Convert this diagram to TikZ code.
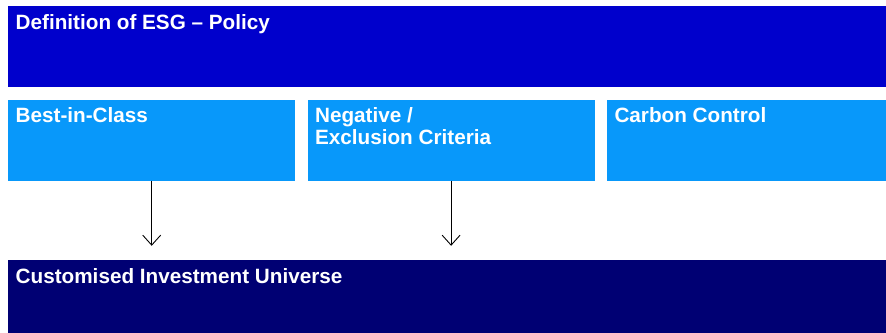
\documentclass[tikz,border=0pt]{standalone}
\usepackage{fontspec}
\setsansfont{Liberation Sans}
\usetikzlibrary{arrows.meta,positioning}
\definecolor{esgblue}{RGB}{0,0,204}
\definecolor{critblue}{RGB}{8,152,250}
\definecolor{univblue}{RGB}{0,0,115}
\newcommand{\paneltext}[3]{\parbox[t][#2][t]{#1}{#3}}
\begin{document}
\begin{tikzpicture}[
    x=1pt,y=-1pt,
    node distance=12pt,
    panel/.style={rectangle,fill=#1,text=white,inner xsep=7.5pt,inner ysep=8pt,
      font=\sffamily\bfseries\fontsize{20.7}{22}\selectfont},
    flow/.style={draw=black,line width=0.9pt,-{Straight Barb[length=10pt,width=18pt,line width=0.9pt]},shorten >=14pt}]
    \useasboundingbox (0,0) rectangle (886,332);
    \node[panel=esgblue,anchor=north west] (policy) at (8,6) {\paneltext{863pt}{65pt}{Definition of ESG – Policy}};
    \node[panel=critblue,below=12pt of policy.south west,anchor=north west] (bic) {\paneltext{272pt}{65pt}{Best-in-Class}};
    \node[panel=critblue,right=of bic] (excl) {\paneltext{272pt}{65pt}{Negative /\\Exclusion Criteria}};
    \node[panel=critblue,right=of excl] (carbon) {\paneltext{264pt}{65pt}{Carbon Control}};
    \node[panel=univblue,below=79pt of bic.south west,anchor=north west] (universe) {\paneltext{863pt}{57pt}{Customised Investment Universe}};
    \draw[flow] (bic.south) -- (bic.south |- universe.north);
    \draw[flow] (excl.south) -- (excl.south |- universe.north);
  \end{tikzpicture}
\end{document}
